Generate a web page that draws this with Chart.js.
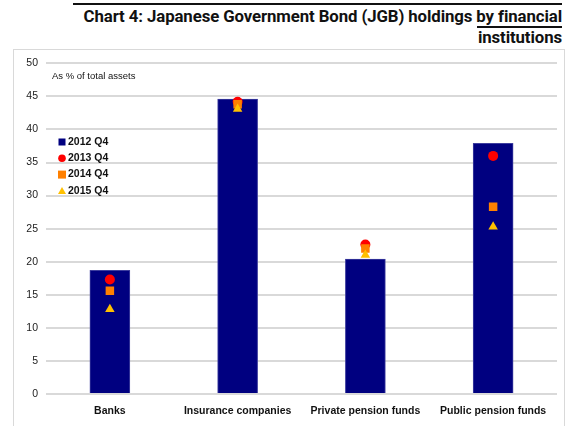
<!DOCTYPE html>
<html>
<head>
<meta charset="utf-8">
<script src="https://cdn.jsdelivr.net/npm/chart.js@4"></script>
<style>
  body { margin: 0; background: #fff; width: 570px; height: 426px; overflow: hidden; position: relative; font-family: "Liberation Sans", Arial, sans-serif; }
  #topLine { position: absolute; left: 73px; top: 3px; width: 489px; height: 2px; background: #111; }
  #underLine { position: absolute; left: 477px; top: 26px; width: 85px; height: 2px; background: #111; }
  .title { position: absolute; right: 8px; font-family: "Roboto", sans-serif; font-weight: bold; font-size: 16.8px; letter-spacing: -0.1px; color: #111; white-space: nowrap; text-align: right; line-height: 20px; }
  #frame { position: absolute; left: 13px; top: 49px; width: 552px; height: 377px; border: 1px solid #d9d9d9; border-bottom: none; box-sizing: border-box; }
  #chartBox { position: absolute; left: 13px; top: 49px; width: 552px; height: 377px; }
</style>
</head>
<body>
<div id="topLine"></div>
<div class="title" style="top:6px;">Chart 4: Japanese Government Bond (JGB) holdings by financial</div>
<div id="underLine"></div>
<div class="title" style="top:27px;">institutions</div>
<div id="frame"></div>
<div id="chartBox"><canvas id="myChart" width="552" height="377"></canvas></div>
<script>
var categories = ['Banks', 'Insurance companies', 'Private pension funds', 'Public pension funds'];
var values2012 = [18.7, 44.6, 20.4, 37.9];
var values2013 = [17.3, 44.2, 22.6, 36.0];
var values2014 = [15.6, 43.8, 22.0, 28.3];
var values2015 = [12.8, 43.1, 21.0, 25.3];
var yTicks = [0, 5, 10, 15, 20, 25, 30, 35, 40, 45, 50];

document.addEventListener('DOMContentLoaded', function () {
    var legendItems = [
        { label: '2012 Q4', color: '#000080', shape: 'rect' },
        { label: '2013 Q4', color: '#ff0000', shape: 'circle' },
        { label: '2014 Q4', color: '#ff8000', shape: 'square' },
        { label: '2015 Q4', color: '#ffc000', shape: 'triangle' }
    ];

    // legend and unit note drawn inside the plot
    var insideLegend = {
        id: 'insideLegend',
        afterDraw: function (chart) {
            var ctx = chart.ctx;
            ctx.save();
            ctx.fillStyle = '#111';
            ctx.font = '9.5px "Liberation Sans", Arial, sans-serif';
            ctx.textBaseline = 'middle';
            ctx.fillText('As % of total assets', 39, 27);

            ctx.font = 'bold 10.5px "Liberation Sans", Arial, sans-serif';
            for (var i = 0; i < legendItems.length; i++) {
                var it = legendItems[i];
                var y = 93 + i * 16.3;
                var x = 49;
                ctx.fillStyle = it.color;
                if (it.shape === 'rect') {
                    ctx.fillRect(x - 3.5, y - 3.5, 7, 7);
                } else if (it.shape === 'circle') {
                    ctx.beginPath();
                    ctx.arc(x, y, 3.8, 0, Math.PI * 2);
                    ctx.fill();
                } else if (it.shape === 'square') {
                    ctx.fillRect(x - 4, y - 4, 8, 8);
                } else {
                    ctx.beginPath();
                    ctx.moveTo(x, y - 4);
                    ctx.lineTo(x + 4, y + 3);
                    ctx.lineTo(x - 4, y + 3);
                    ctx.closePath();
                    ctx.fill();
                }
                ctx.fillStyle = '#111';
                ctx.fillText(it.label, 55, y);
            }
            ctx.restore();
        }
    };

    var ctx = document.getElementById('myChart').getContext('2d');
    var myChart = new Chart(ctx, {
        data: {
            labels: categories,
            datasets: [{
                type: 'bar',
                label: '2012 Q4',
                data: values2012,
                backgroundColor: '#000080',
                borderColor: '#3d3d9e',
                borderWidth: 1,
                barThickness: 40,
                order: 4
            }, {
                type: 'line',
                label: '2013 Q4',
                data: values2013,
                showLine: false,
                pointStyle: 'circle',
                pointRadius: 5,
                pointBackgroundColor: '#ff0000',
                pointBorderColor: '#ff0000',
                pointBorderWidth: 0,
                order: 3
            }, {
                type: 'line',
                label: '2014 Q4',
                data: values2014,
                showLine: false,
                pointStyle: 'rect',
                pointRadius: 6,
                pointBackgroundColor: '#ff8000',
                pointBorderColor: '#ff8000',
                pointBorderWidth: 0,
                order: 2
            }, {
                type: 'line',
                label: '2015 Q4',
                data: values2015,
                showLine: false,
                pointStyle: 'triangle',
                pointRadius: 5.5,
                pointBackgroundColor: '#ffc000',
                pointBorderColor: '#ffc000',
                pointBorderWidth: 0,
                order: 1
            }]
        },
        options: {
            responsive: false,
            animation: false,
            layout: { padding: { top: 11, right: 8, bottom: 0, left: 0 } },
            plugins: {
                legend: { display: false },
                tooltip: { enabled: false }
            },
            scales: {
                x: {
                    grid: { display: false },
                    border: { display: false },
                    ticks: {
                        color: '#111',
                        padding: 3,
                        maxRotation: 0,
                        font: { family: '"Liberation Sans", Arial, sans-serif', size: 10.5, weight: 'bold' }
                    },
                    afterFit: function (scale) { scale.height = 32; }
                },
                y: {
                    min: 0,
                    max: 50,
                    afterBuildTicks: function (scale) {
                        scale.ticks = yTicks.map(function (v) { return { value: v }; });
                    },
                    grid: { color: '#d9d9d9', lineWidth: 2, drawTicks: false },
                    border: { display: false },
                    ticks: {
                        color: '#222',
                        padding: 8,
                        font: { family: '"Liberation Sans", Arial, sans-serif', size: 10.5 }
                    },
                    afterFit: function (scale) { scale.width = 33; }
                }
            }
        },
        plugins: [insideLegend]
    });
});
</script>
</body>
</html>
